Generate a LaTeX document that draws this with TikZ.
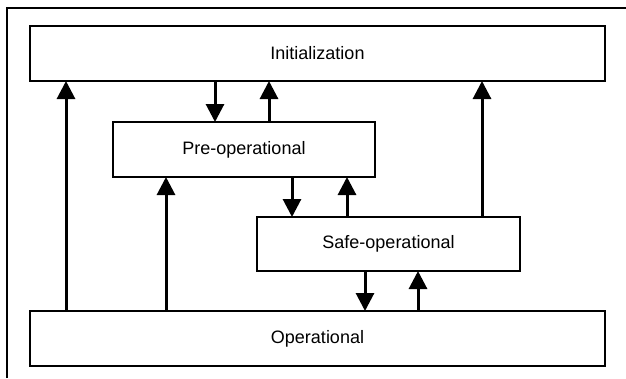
\documentclass[tikz,border=0pt]{standalone}
\usepackage{fontspec}
\setmainfont{Liberation Sans}
\usetikzlibrary{arrows.meta}
\begin{document}
\begin{tikzpicture}[x=1pt,y=-1pt,
  statebox/.style={draw, line width=2pt, rectangle, inner sep=0pt, outer sep=0pt,
    minimum height=55pt, font=\fontsize{18}{20}\selectfont},
  trans/.style={line width=3pt, -{Triangle[width=18pt,length=18pt]}},
  frameline/.style={line width=2pt}]
  \useasboundingbox (0,0) rectangle (626,378);
  % frame edges
  \coordinate (fbl) at (7,378);
  \coordinate (ftl) at (7,8);
  \coordinate (ftr) at (626,8);
  \draw[frameline] (fbl) -- (ftl) -- (ftr);
  % states
  \node[statebox, minimum width=575pt] (init) at (317.5,53.5) {Initialization};
  \node[statebox, minimum width=262pt] (pre) at (244,149.5) {Pre-operational};
  \node[statebox, minimum width=263pt, minimum height=54pt] (safe) at (388.5,244) {Safe-operational};
  \node[statebox, minimum width=575pt] (op) at (317.5,338.5) {Operational};
  % transition columns
  \coordinate (c1) at (66,0);
  \coordinate (c2) at (166,0);
  \coordinate (c3) at (215,0);
  \coordinate (c4) at (269,0);
  \coordinate (c5) at (292,0);
  \coordinate (c6) at (347,0);
  \coordinate (c7) at (482,0);
  \coordinate (c8) at (365,0);
  \coordinate (c9) at (418,0);
  % transitions
  \draw[trans] (op.north -| c1) -- (init.south -| c1);
  \draw[trans] (op.north -| c2) -- (pre.south -| c2);
  \draw[trans] (init.south -| c3) -- (pre.north -| c3);
  \draw[trans] (pre.north -| c4) -- (init.south -| c4);
  \draw[trans] (pre.south -| c5) -- (safe.north -| c5);
  \draw[trans] (safe.north -| c6) -- (pre.south -| c6);
  \draw[trans] (safe.north -| c7) -- (init.south -| c7);
  \draw[trans] (safe.south -| c8) -- (op.north -| c8);
  \draw[trans] (op.north -| c9) -- (safe.south -| c9);
\end{tikzpicture}
\end{document}
